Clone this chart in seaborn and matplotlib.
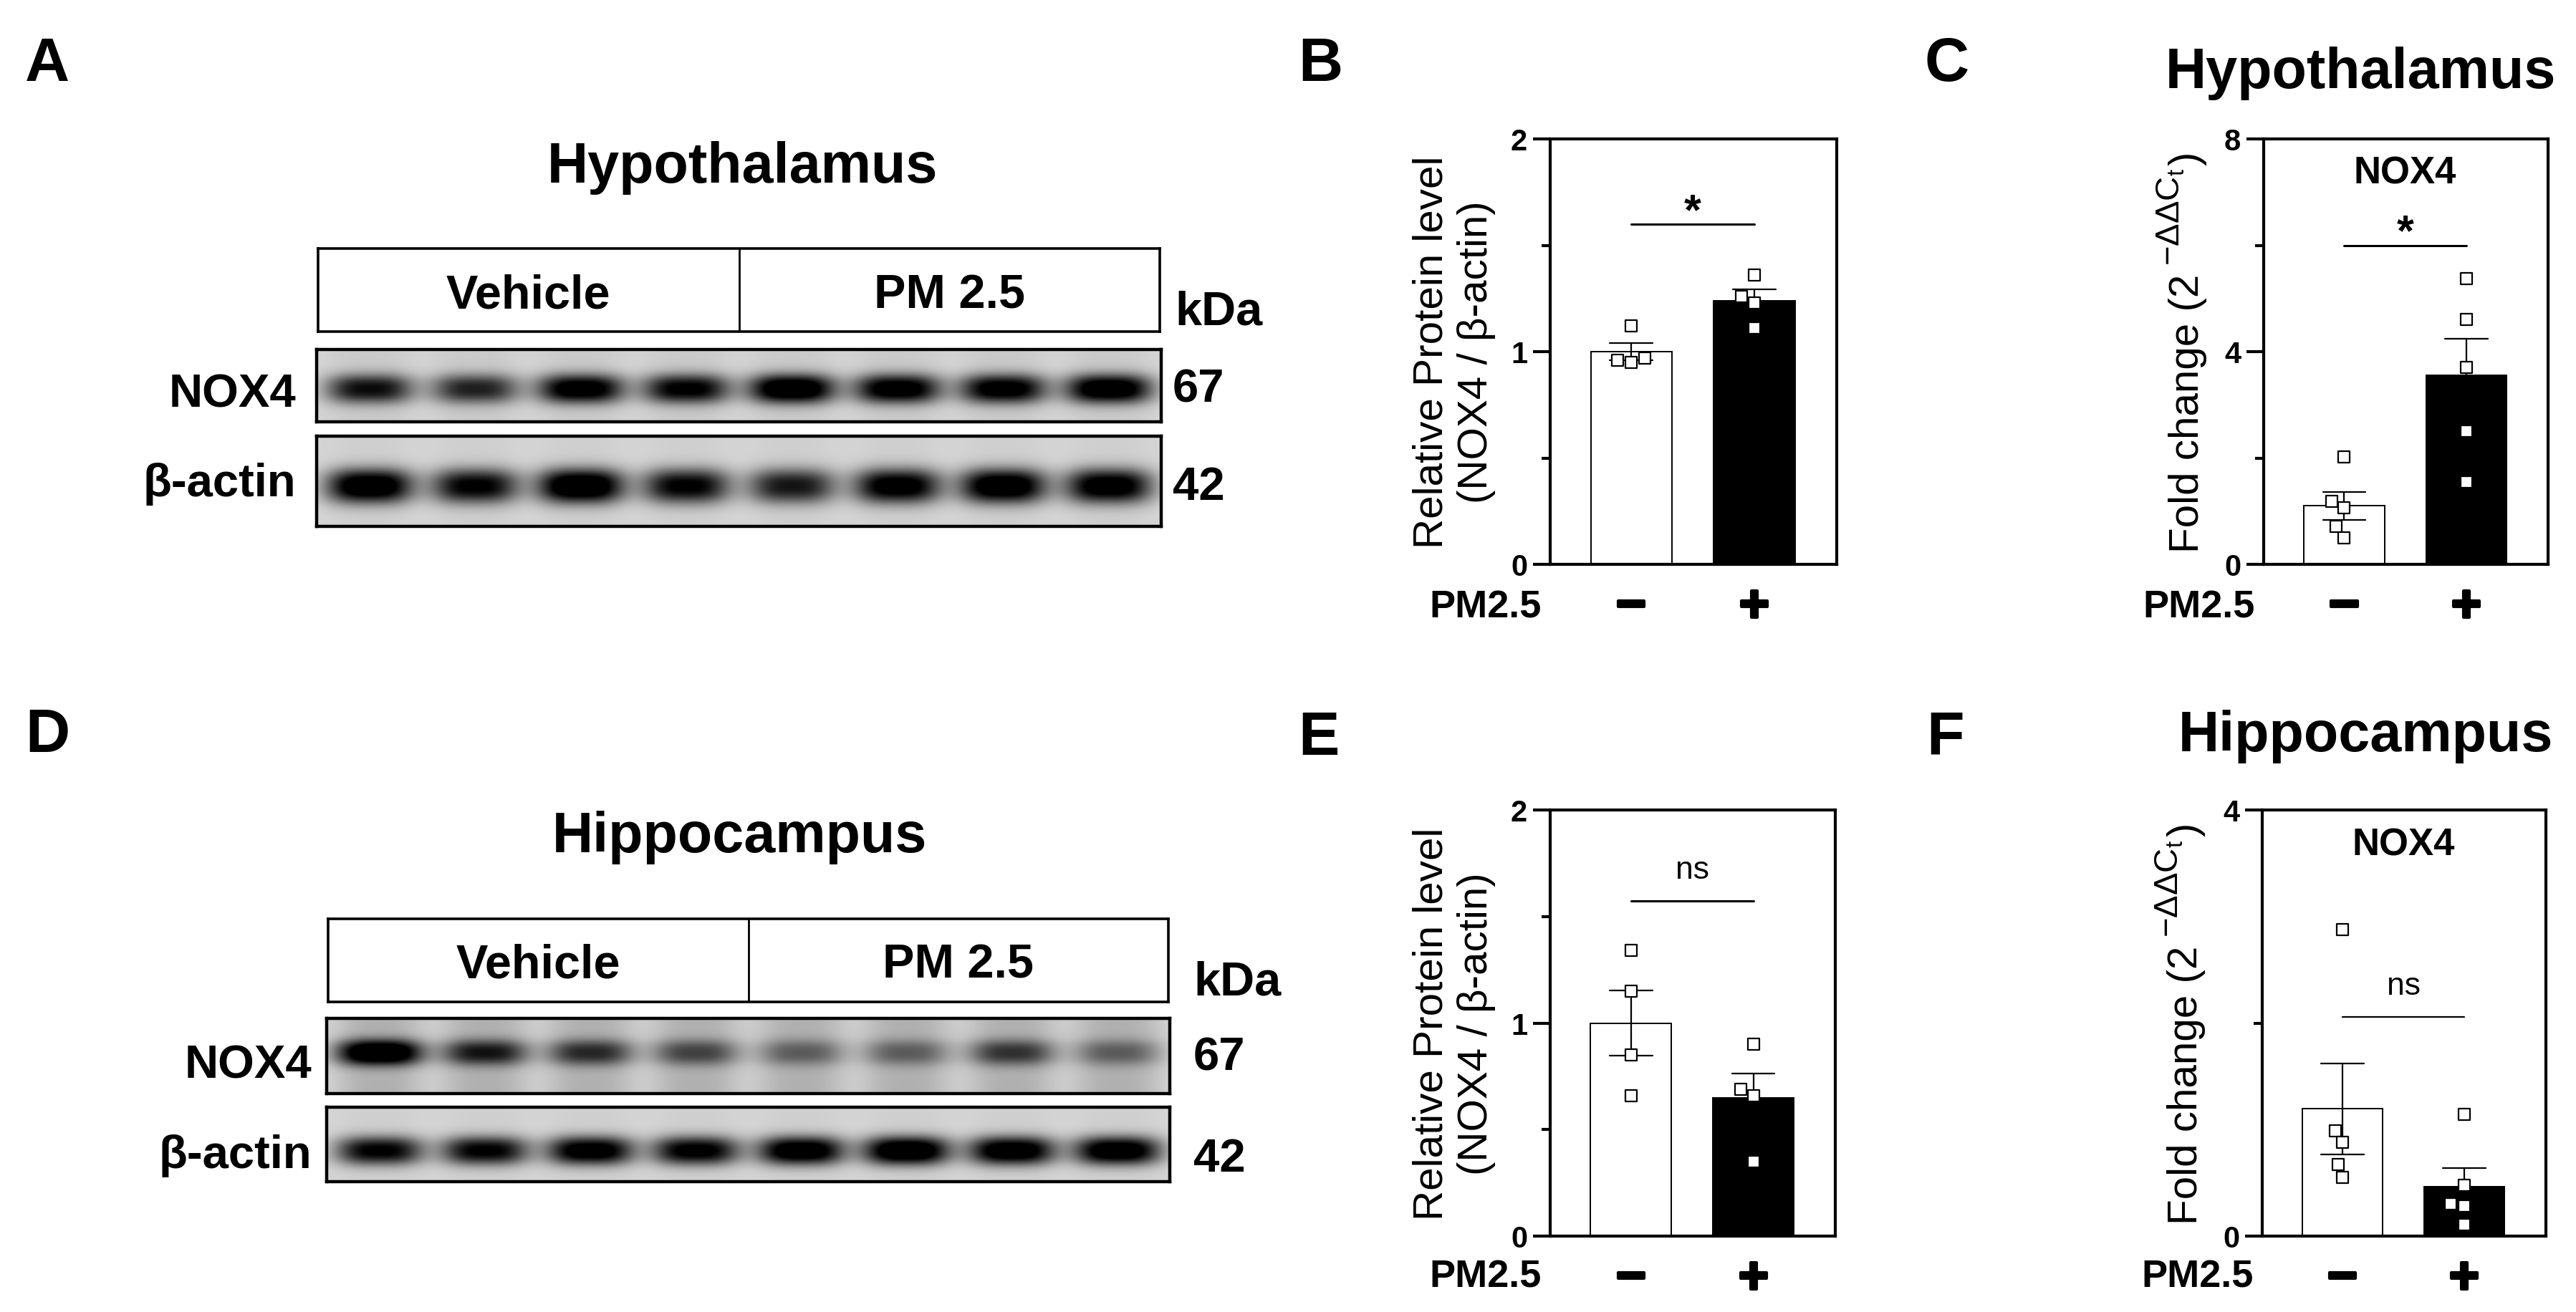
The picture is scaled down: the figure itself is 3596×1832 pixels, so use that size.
import numpy as np
import pandas as pd
import seaborn as sns
import matplotlib.pyplot as plt
import matplotlib.patheffects as pe

W, H = 3596, 1833

groups = ['−', '+']  # PM2.5 absent / present
bar_colors = {'−': 'white', '+': 'black'}

# B: hypothalamus NOX4 / beta-actin (western blot)
b_vehicle = [1.12, 0.95, 0.97, 0.96]
b_pm25 = [1.36, 1.26, 1.23, 1.11]
# C: hypothalamus NOX4 mRNA fold change
c_vehicle = [2.02, 1.19, 1.07, 0.71, 0.50]
c_pm25 = [5.37, 4.61, 3.71, 2.51, 1.55]
# E: hippocampus NOX4 / beta-actin
e_vehicle = [1.34, 1.15, 0.85, 0.66]
e_pm25 = [0.90, 0.69, 0.66, 0.35]
# F: hippocampus NOX4 mRNA fold change
f_vehicle = [2.88, 0.99, 0.88, 0.67, 0.55]
f_pm25 = [1.14, 0.48, 0.30, 0.28, 0.11]

# band darkness per lane (4 vehicle, 4 PM2.5)
hyp_nox4 = [0.72, 0.64, 0.88, 0.80, 0.97, 0.88, 0.86, 0.93]
hyp_actin = [0.95, 0.80, 1.00, 0.80, 0.70, 0.88, 0.95, 0.90]
hip_nox4 = [0.95, 0.60, 0.52, 0.42, 0.32, 0.32, 0.48, 0.32]
hip_actin = [0.80, 0.80, 0.90, 0.84, 0.94, 1.00, 0.94, 0.94]

sns.set_theme(style='ticks')
plt.rcParams['font.family'] = ['Liberation Sans', 'DejaVu Sans']
plt.rcParams['mathtext.fontset'] = 'custom'
plt.rcParams['mathtext.rm'] = 'Liberation Sans'
plt.rcParams['mathtext.it'] = 'Liberation Sans:italic'
plt.rcParams['mathtext.bf'] = 'Liberation Sans:bold'
for k in ['text.color', 'axes.labelcolor', 'xtick.color', 'ytick.color', 'axes.edgecolor']:
    plt.rcParams[k] = 'black'

fig = plt.figure(figsize=(W / 100, H / 100), dpi=100)
renderer = fig.canvas.get_renderer()


def px_axes(x0, y0, x1, y1):
    return fig.add_axes([x0 / W, 1 - y1 / H, (x1 - x0) / W, (y1 - y0) / H])


def ftext(x, y, s, fs, c=0.0, weight='bold', ha='left'):
    # y is the glyph centre when c > 0, otherwise the baseline (pixels from top)
    base = y + c * fs * 100 / 72
    fig.text(x / W, 1 - base / H, s, fontsize=fs, fontweight=weight, ha=ha, va='baseline')


def atext(ax, x, y, s, fs, c, coords='data', weight='bold', dy=0.0, **kw):
    return ax.annotate(s, xy=(x, y), xycoords=coords, xytext=(0, -c * fs - dy),
                       textcoords='offset points', ha='center', va='baseline',
                       fontsize=fs, fontweight=weight, annotation_clip=False, **kw)


def header(rect, divider):
    ax = px_axes(*rect)
    ax.set_xlim(0, 1)
    ax.set_ylim(0, 1)
    ax.set_xticks([])
    ax.set_yticks([])
    for s in ax.spines.values():
        s.set_linewidth(2.6)
    ax.axvline(divider, color='black', lw=2.0)
    atext(ax, divider / 2, 0.5, 'Vehicle', 48, 0.36)
    atext(ax, (1 + divider) / 2, 0.5, 'PM 2.5', 48, 0.36)


def blot(rect, darkness, center, thick, smear):
    ax = px_axes(*rect)
    w, h = rect[2] - rect[0], rect[3] - rect[1]
    xs = np.arange(w)
    ys = np.arange(h)
    img = np.full((h, w), 0.84)
    spacing = w / len(darkness)
    band = np.exp(-np.abs((ys - center * h) / (thick * h)) ** 2.4)
    for i, d in enumerate(darkness):
        lane = np.exp(-np.abs((xs - (i + 0.5) * spacing) / (0.41 * spacing)) ** 3)
        img -= 1.05 * d * np.outer(band, lane)
        img -= smear * np.outer(np.ones(h), lane)
    ax.imshow(np.clip(img, 0, 1), cmap='gray', vmin=0, vmax=1, aspect='auto',
              interpolation='bilinear')
    ax.set_xticks([])
    ax.set_yticks([])
    for s in ax.spines.values():
        s.set_linewidth(3.2)


def qpcr_ylabel(ax, x_base):
    # rotated pieces so the 2^-ddCt exponent keeps a readable size
    bb = ax.get_position()
    yc = (bb.y0 + bb.y1) / 2 * H
    pieces = [('Fold change (2', 42, 0), (r'$-\Delta\Delta\mathrm{C}_{\mathrm{t}}$', 34, 26),
              (')', 42, 0)]
    texts = [fig.text(0, 0, s, fontsize=fs, rotation=90, rotation_mode='anchor',
                      ha='left', va='baseline') for s, fs, _ in pieces]
    lengths = [t.get_window_extent(renderer).height for t in texts]
    gaps = [12, 4, 0]
    y = yc - (sum(lengths) + sum(gaps)) / 2
    for t, (_, _, lift), L, g in zip(texts, pieces, lengths, gaps):
        t.set_position(((x_base - lift) / W, y / H))
        y += L + g


def bar_panel(rect, vehicle, pm25, ymax, major, minor, ylabel, label_x,
              mark, line_y, mark_y, mark_bold, gene_y=None, line_w=2.2):
    ax = px_axes(*rect)
    df = pd.DataFrame({'PM2.5': [groups[0]] * len(vehicle) + [groups[1]] * len(pm25),
                       'value': vehicle + pm25})
    sns.barplot(data=df, x='PM2.5', y='value', hue='PM2.5', order=groups, hue_order=groups,
                palette=bar_colors, edgecolor='black', linewidth=1.4, width=0.66,
                errorbar='se', capsize=0.35, err_kws={'color': 'black', 'linewidth': 1.6},
                legend=False, ax=ax)
    sns.swarmplot(data=df, x='PM2.5', y='value', order=groups, marker='s', size=12,
                  color='white', edgecolor='black', linewidth=1.6, zorder=3, ax=ax)
    ax.set_xlim(-0.66, 1.67)
    ax.set_ylim(0, ymax)
    ax.set_yticks(major)
    ax.set_yticks(minor, minor=True)
    ax.set_yticklabels([str(v) for v in major], fontsize=30, fontweight='bold')
    ax.set_xticks([])
    ax.set_xlabel('')
    if ylabel is None:
        ax.set_ylabel('')
    else:
        ax.set_ylabel(ylabel, fontsize=42)
        ax.yaxis.set_label_coords(label_x, 0.5)
    for s in ax.spines.values():
        s.set_visible(True)
        s.set_linewidth(3)
    ax.tick_params(axis='y', which='major', length=17, width=3, pad=6)
    ax.tick_params(axis='y', which='minor', length=9, width=3)
    # PM2.5 -/+ row under the bars
    for i, g in enumerate(groups):
        atext(ax, i, 0, g, 52, 0.33, coords=('data', 'axes fraction'), dy=40,
              path_effects=[pe.withStroke(linewidth=3, foreground='black')])
    # significance bar
    ax.plot([0, 1], [line_y, line_y], color='black', lw=line_w)
    if mark_bold:
        atext(ax, 0.5, mark_y, mark, 44, 0.58)
    else:
        atext(ax, 0.5, mark_y, mark, 32, 0.26, weight='normal')
    if gene_y is not None:
        atext(ax, 0.5, gene_y, 'NOX4', 38, 0.36)
    return ax


# ---- panel A ----
ftext(35, 113, 'A', 62)
ftext(1036, 255, 'Hypothalamus', 57, ha='center')
header((444, 348, 1619, 464), 0.5)
ftext(1640, 430, 'kDa', 48, c=0.36)
blot((442, 489, 1621, 590), hyp_nox4, 0.54, 0.20, 0.05)
blot((442, 610, 1621, 736), hyp_actin, 0.55, 0.19, 0.03)
ftext(413, 545, 'NOX4', 47, c=0.36, ha='right')
ftext(413, 672, 'β-actin', 47, c=0.32, ha='right')
ftext(1637, 538, '67', 47, c=0.36)
ftext(1637, 675, '42', 47, c=0.36)

# ---- panel D ----
ftext(35, 1050, 'D', 62)
ftext(1032, 1190, 'Hippocampus', 57, ha='center')
header((458, 1284, 1631, 1400), 0.5)
ftext(1666, 1365, 'kDa', 48, c=0.36)
blot((456, 1423, 1633, 1528), hip_nox4, 0.45, 0.17, 0.15)
blot((456, 1547, 1633, 1651), hip_actin, 0.58, 0.19, 0.03)
ftext(435, 1482, 'NOX4', 47, c=0.36, ha='right')
ftext(435, 1610, 'β-actin', 47, c=0.32, ha='right')
ftext(1666, 1471, '67', 47, c=0.36)
ftext(1666, 1613, '42', 47, c=0.36)

# ---- bar charts ----
wb_label = 'Relative Protein level\n(NOX4 / β-actin)'

ftext(1812, 113, 'B', 62)
bar_panel((2164, 195, 2564, 789), b_vehicle, b_pm25, 2, [0, 1, 2], [0.5, 1.5],
          wb_label, -0.19, '*', 1.60, 1.72, True)
ftext(2152, 863, 'PM2.5', 39, ha='right')

ftext(2687, 113, 'C', 62)
ftext(3295, 123, 'Hypothalamus', 57, ha='center')
ax_c = bar_panel((3160, 195, 3557, 789), c_vehicle, c_pm25, 8, [0, 4, 8], [2, 6],
                 None, 0, '*', 6.0, 6.5, True, gene_y=7.43)
qpcr_ylabel(ax_c, 3069)
ftext(3148, 863, 'PM2.5', 39, ha='right')

ftext(1812, 1054, 'E', 62)
bar_panel((2164, 1132, 2562, 1727), e_vehicle, e_pm25, 2, [0, 1, 2], [0.5, 1.5],
          wb_label, -0.19, 'ns', 1.573, 1.72, False)
ftext(2152, 1798, 'PM2.5', 39, ha='right')

ftext(2689, 1054, 'F', 62)
ftext(3302, 1049, 'Hippocampus', 57, ha='center')
ax_f = bar_panel((3158, 1132, 3554, 1727), f_vehicle, f_pm25, 4, [0, 4], [2],
                 None, 0, 'ns', 2.06, 2.35, False, gene_y=3.71, line_w=1.6)
qpcr_ylabel(ax_f, 3067)
ftext(3146, 1798, 'PM2.5', 39, ha='right')

fig.savefig('out.png', dpi=100, facecolor='white')
